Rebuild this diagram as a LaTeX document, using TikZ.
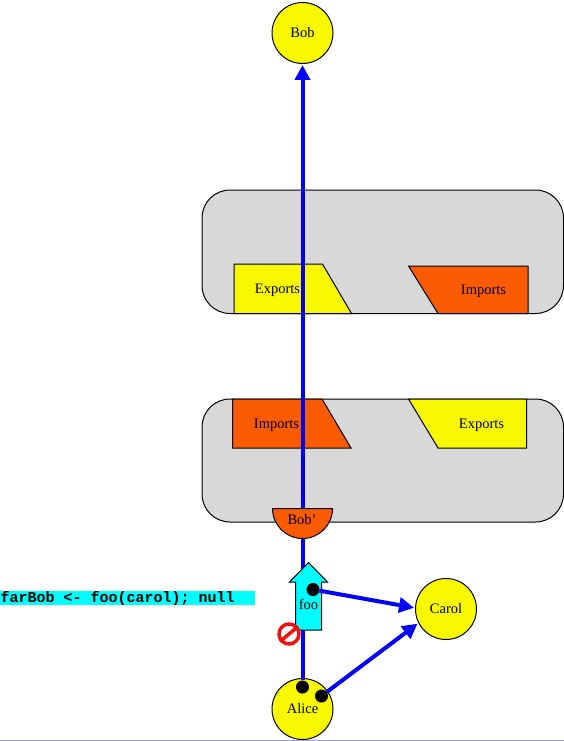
\documentclass[tikz,border=0pt]{standalone}
\usepackage{fontspec}
\setmainfont{Liberation Serif}
\setmonofont{Liberation Mono}
\usetikzlibrary{arrows.meta}
\definecolor{vatGray}{HTML}{D8D8D8}
\definecolor{vatYellow}{HTML}{F8F800}
\definecolor{vatOrange}{HTML}{FB5B00}
\definecolor{vatCyan}{HTML}{00FCFC}
\definecolor{vatBlue}{HTML}{0000F8}
\definecolor{vatRed}{HTML}{F01010}
\definecolor{vatEdge}{HTML}{9898F0}
\tikzset{
  vat box/.style={draw=black, line width=1pt, fill=vatGray, rounded corners=28pt},
  vat export/.style={draw=black, line width=1pt, fill=vatYellow},
  vat import/.style={draw=black, line width=1pt, fill=vatOrange},
  vat object/.style={circle, draw=black, line width=1pt, fill=vatYellow, minimum size=61pt, inner sep=0pt, font=\fontsize{14.5}{14.5}\selectfont},
  vat label/.style={inner sep=0pt, font=\fontsize{14.5}{14.5}\selectfont},
  vat dot/.style={circle, fill=black, minimum size=13pt, inner sep=0pt},
  vat ref/.style={draw=vatBlue, line width=4pt, -{Triangle[length=15pt,width=15pt,fill=vatBlue]}, shorten >=1pt},
  vat code/.style={font=\fontsize{15}{15}\selectfont\ttfamily\bfseries, inner sep=0pt},
}

\begin{document}
\begin{tikzpicture}[x=1pt,y=-1pt]
  \useasboundingbox (0,0) rectangle (564,741);
  \draw[draw=vatEdge, line width=1pt] (0,740.5) -- (564,740.5);
  \draw[vat box] (202,190) rectangle (563.5,313.5);
  \draw[vat box] (202,399) rectangle (563.5,522);
  \draw[vat export] (234,264) -- (322.5,264) -- (351.5,313.5) -- (234,313.5) -- cycle;
  \draw[vat import] (408.5,266) -- (528,266) -- (528,313.5) -- (438,313.5) -- cycle;
  \draw[vat import] (232.5,399) -- (322,399) -- (351,448) -- (232.5,448) -- cycle;
  \draw[vat export] (408.5,399) -- (526.5,399) -- (526.5,448) -- (438,448) -- cycle;
  \node[vat label] (exportsUpper) at (277.5,290) {Exports};
  \node[vat label] (importsUpper) at (483.5,291.5) {Imports};
  \node[vat label] (importsLower) at (276.5,425.5) {Imports};
  \node[vat label] (exportsLower) at (481.5,425.5) {Exports};
  \node[vat object] (bob) at (302.5,33) {Bob};
  \node[vat object] (alice) at (302.5,709) {Alice};
  \node[vat object] (carol) at (446,609) {Carol};
  \node[vat dot] (aliceUp) at (302.5,687) {};
  \node[vat dot] (aliceOut) at (321.5,696) {};
  \draw[vat ref] (aliceUp) -- (bob);
  \draw[vat import] (272.5,508.5) arc (180:360:30pt) -- cycle;
  \node[vat label] (bobProxy) at (302,520) {Bob\char39};
  \fill[vatCyan] (0,591) rectangle (255,605);
  \node[vat code, anchor=base west] (codeLine) at (0.5,602) {farBob <- foo(carol); null};
  \draw[draw=black, line width=1pt, fill=vatCyan] (308.5,562.5) -- (327.5,582) -- (321.5,582) -- (321.5,630) -- (295.5,630) -- (295.5,582) -- (289.5,582) -- cycle;
  \node[vat label] (foo) at (308.5,604) {foo};
  \node[vat dot] (fooDot) at (313,589.5) {};
  \draw[vat ref] (fooDot) -- (carol.178);
  \draw[vat ref] (aliceOut) -- (carol.207);
  \node[circle, draw=vatRed, line width=3.5pt, fill=white, minimum size=20pt, inner sep=0pt] (noEntry) at (289,634) {};
  \draw[draw=vatRed, line width=3.5pt] (noEntry.40) -- (noEntry.220);
\end{tikzpicture}
\end{document}
